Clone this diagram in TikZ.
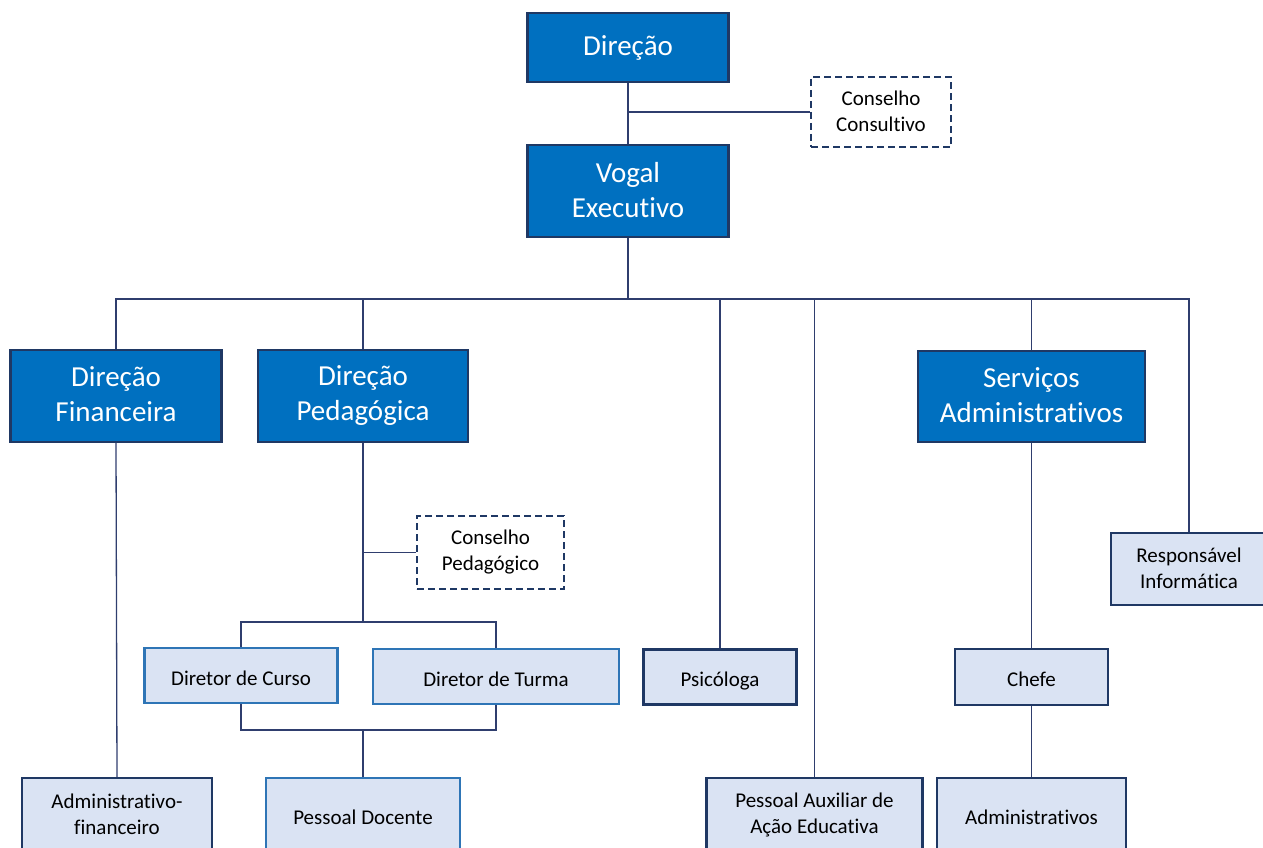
\documentclass[tikz,border=0pt]{standalone}
\usepackage{fontspec}
\setmainfont{Carlito}[Ligatures=NoCommon]
\usepackage{xcolor}
\usepackage{tikz}
\usetikzlibrary{positioning,backgrounds}

\definecolor{headfill}{HTML}{0070C0}
\definecolor{navyline}{HTML}{1F3864}
\definecolor{palefill}{HTML}{DAE3F3}
\definecolor{lightedge}{HTML}{2E75B6}
\definecolor{linkcol}{HTML}{2F3E6E}

\tikzset{vpos/.style 2 args={execute at begin node={\rule{0pt}{#1}},
    execute at end node={\rule[-#2]{0pt}{#2}}}}

\begin{document}
\begin{tikzpicture}[x=1pt,y=-1pt,
    headbox/.style={rectangle,draw=navyline,line width=2.4pt,fill=headfill,text=white,
        font=\fontsize{29}{35}\selectfont,align=center,inner sep=0pt,vpos={31pt}{3pt}},
    staffbox/.style={rectangle,draw=navyline,line width=2.4pt,fill=palefill,
        font=\fontsize{21}{26}\selectfont,align=center,inner sep=0pt,vpos={25pt}{2pt}},
    staffboxlt/.style={staffbox,draw=lightedge},
    councilbox/.style={rectangle,draw=navyline,line width=2.4pt,dash pattern=on 7pt off 4pt,
        fill=white,font=\fontsize{21}{26}\selectfont,align=center,inner sep=0pt,vpos={25pt}{2pt}},
    oneline/.style={vpos={21pt}{6pt}},
    link/.style={draw=linkcol,line width=1.3pt}]
    \useasboundingbox (0,0) rectangle (1263,848);
    \clip (0,0) rectangle (1263,848);

    % top
    \node[headbox,vpos={20pt}{15.6pt},minimum width=201pt,minimum height=69pt](dir) at (628,47.5) {Direção};
    \node[councilbox,minimum width=140pt,minimum height=70pt](ccons) at (881,112) {Conselho\\Consultivo};
    \node[headbox,minimum width=201pt,minimum height=92pt](vogal) at (628,191) {Vogal\\Executivo};

    % second level
    \node[headbox,minimum width=211pt,minimum height=92pt](dfin) at (116,396) {Direção\\Financeira};
    \node[headbox,minimum width=210pt,minimum height=92pt](dped) at (363,396) {Direção\\Pedagógica};
    \node[headbox,minimum width=227pt,minimum height=91pt](serv) at (1031.5,396.5) {Serviços\\Administrativos};
    \node[staffbox,minimum width=156pt,minimum height=72pt](resp) at (1189,569) {Responsável\\Informática};

    % pedagogical branch
    \node[councilbox,minimum width=147pt,minimum height=73pt](cped) at (490.5,552.5) {Conselho\\Pedagógico};
    \node[staffboxlt,oneline,minimum width=193pt,minimum height=55pt](dcur) at (241,675.5) {Diretor de Curso};
    \node[staffboxlt,oneline,minimum width=246pt,minimum height=55pt](dtur) at (496,676.5) {Diretor de Turma};
    \node[staffbox,oneline,minimum width=153pt,minimum height=55pt](psi) at (720,677) {Psicóloga};
    \node[staffbox,oneline,minimum width=153pt,minimum height=56pt](chefe) at (1031.5,677) {Chefe};

    % bottom row
    \node[staffbox,minimum width=190pt,minimum height=74pt](admfin) at (117,815) {Administrativo-\\financeiro};
    \node[staffboxlt,oneline,minimum width=194pt,minimum height=74pt](pdoc) at (363,815) {Pessoal Docente};
    \node[staffbox,minimum width=216pt,minimum height=74pt](paux) at (814.5,815) {Pessoal Auxiliar de\\Ação Educativa};
    \node[staffbox,oneline,minimum width=189pt,minimum height=74pt](adm) at (1031.5,815) {Administrativos};

    \coordinate (bus) at (628,299);
    \coordinate (upbr) at (363,622);
    \coordinate (lowbr) at (363,730);

    \begin{scope}[on background layer]
    \draw[link] (dir.south) -- (vogal.north);
    \draw[link] (ccons.west) -- (ccons.west -| dir.south);
    \draw[link] (vogal.south) -- (bus);
    \draw[link] (dfin.north) |- (resp.north |- bus) -- (resp.north);
    \draw[link] (dped.north) -- (dped.north |- bus);
    \draw[link] (psi.north) -- (psi.north |- bus);
    \draw[link] (paux.north) -- (paux.north |- bus);
    \draw[link] (serv.north) -- (serv.north |- bus);
    \draw[link] (dfin.south) -- (admfin.north);
    \draw[link] (dped.south) -- (upbr);
    \draw[link] (cped.west) -- (cped.west -| dped.south);
    \draw[link] (dcur.north) |- (upbr) -| (dtur.north);
    \draw[link] (dcur.south) |- (lowbr) -| (dtur.south);
    \draw[link] (lowbr) -- (pdoc.north);
    \draw[link] (serv.south) -- (chefe.north);
    \draw[link] (chefe.south) -- (adm.north);
    \end{scope}
\end{tikzpicture}
\end{document}
